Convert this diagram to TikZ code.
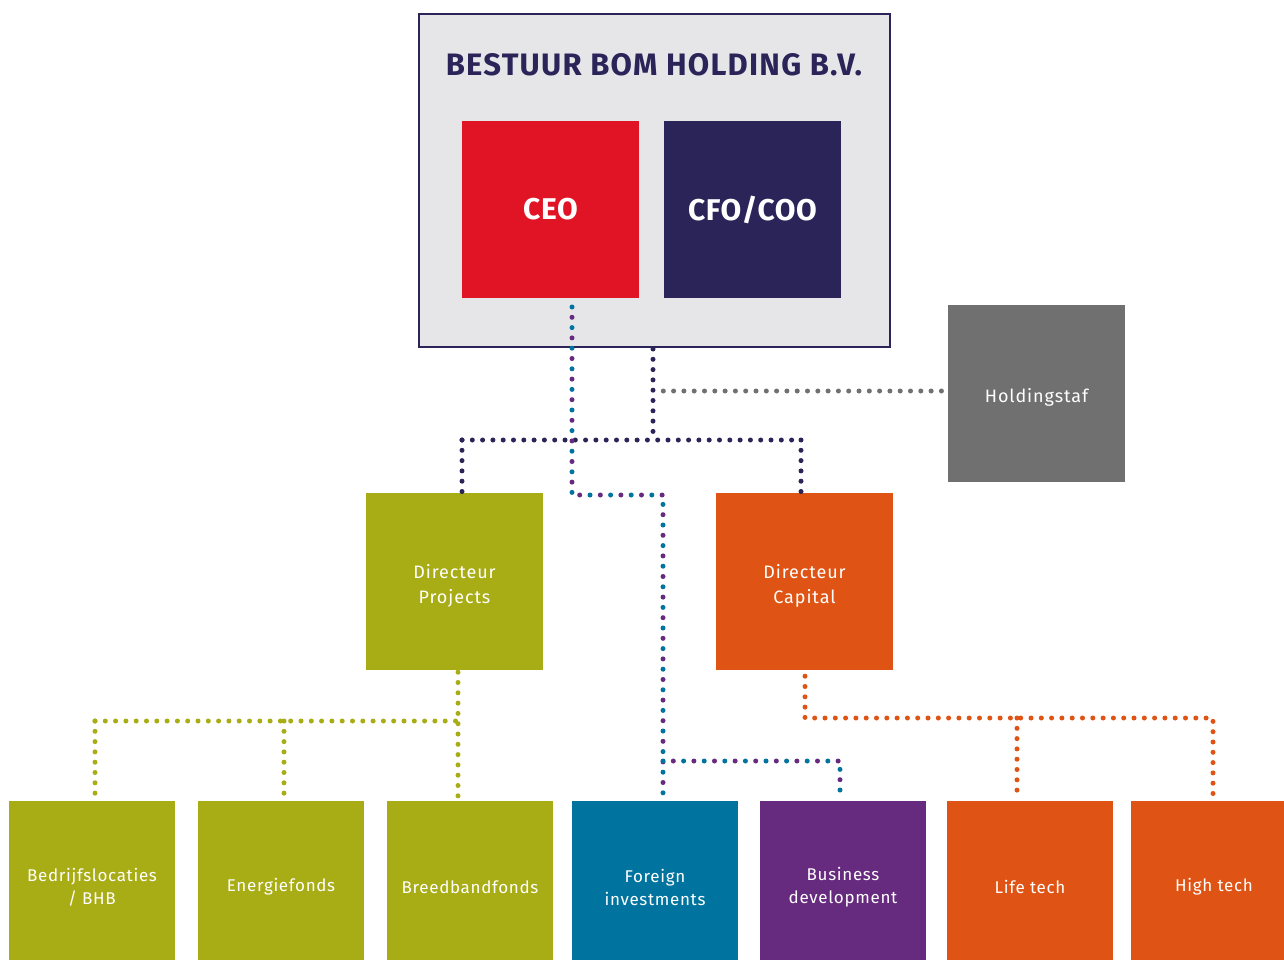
\documentclass[tikz,border=0pt]{standalone}
\usepackage{fontspec}
\setmainfont{Fira Sans}
\usetikzlibrary{calc}
\definecolor{navy}{HTML}{2A2459}
\definecolor{ceored}{HTML}{E01424}
\definecolor{olive}{HTML}{A8AC15}
\definecolor{orng}{HTML}{DF5414}
\definecolor{teal}{HTML}{00749E}
\definecolor{purp}{HTML}{662A7E}
\definecolor{staffgray}{HTML}{707070}
\definecolor{boardgray}{HTML}{E6E6E9}
\begin{document}
\begin{tikzpicture}[x=1pt,y=-1pt,
  bigbox/.style={draw=none, minimum width=177pt, minimum height=177pt, inner sep=0pt, text=white, align=center},
  boxtext/.style={text=white, align=center, font=\fontsize{18}{25}\selectfont\addfontfeature{LetterSpace=5}},
  smallbox/.style={draw=none, minimum width=166pt, minimum height=172pt, inner sep=0pt, text=white, align=center, font=\fontsize{17}{23}\selectfont\addfontfeature{LetterSpace=4}},
  dotline/.style={line width=5pt, line cap=round, dash pattern=on 0pt off 10.3pt},
  dotA/.style={line width=5pt, line cap=round, dash pattern=on 0pt off 20.6pt},
  dotB/.style={line width=5pt, line cap=round, dash pattern=on 0pt off 20.6pt, dash phase=10.3pt},
]
\clip (0,0) rectangle (1284,960);
\fill[white] (0,0) rectangle (1284,960);

% board
\node[draw=navy, line width=2pt, fill=boardgray, minimum width=471pt, minimum height=333pt, inner sep=0pt] (board) at (654.5,180.5) {};
\node[text=navy, font=\fontsize{31}{36}\selectfont\bfseries\addfontfeature{LetterSpace=4}] (title) at (654,65) {BESTUUR BOM HOLDING B.V.};
\node[bigbox, fill=ceored, font=\fontsize{30}{36}\selectfont\bfseries\addfontfeature{LetterSpace=2}] (ceo) at (550.5,209.5) {CEO};
\node[bigbox, fill=navy, font=\fontsize{30}{36}\selectfont\bfseries\addfontfeature{LetterSpace=2}] (cfo) at (752.5,209.5) {CFO/COO};

% second level
\node[bigbox, fill=staffgray, label={[boxtext, yshift=-4pt, name=stafL]center:Holdingstaf}] (staf) at (1036.5,393.5) {};
\node[bigbox, fill=olive, label={[boxtext, yshift=-4pt, name=dirPL]center:Directeur\\Projects}] (dirP) at (454.5,581.5) {};
\node[bigbox, fill=orng, label={[boxtext, yshift=-4pt, name=dirCL]center:Directeur\\Capital}] (dirC) at (804.5,581.5) {};

% bottom row
\node[smallbox, fill=olive] (bedr) at (92,887) {Bedrijfslocaties\\/ BHB};
\node[smallbox, fill=olive] (energ) at (281,887) {Energiefonds};
\node[smallbox, fill=olive] (breed) at (470,887) {Breedbandfonds};
\node[smallbox, fill=teal] (foreign) at (655,887) {Foreign\\investments};
\node[smallbox, fill=purp] (busdev) at (843,887) {Business\\development};
\node[smallbox, fill=orng] (life) at (1030,887) {Life tech};
\node[smallbox, fill=orng] (high) at (1214,887) {High tech};

% junction coordinates
\coordinate (n0) at (653,349);
\coordinate (n1) at (653,440);
\coordinate (jL) at (462,440);
\coordinate (jR) at (801,440);
\coordinate (g0) at (653,391);
\coordinate (t0) at (572,307);
\coordinate (t1) at (572,495);
\coordinate (t2) at (663,495);
\coordinate (t3) at (663,761);
\coordinate (t4) at (840,761);
\coordinate (o0) at (458,721);
\coordinate (o1) at (95,721);
\coordinate (o2) at (284,721);
\coordinate (r0) at (805,718);
\coordinate (r1) at (1213,718);
\coordinate (r2) at (1017,718);

% navy connectors
\draw[dotline, navy] (n0) -- (n1);
\draw[dotline, navy] (jL) -- (jR);
\draw[dotline, navy] (jL) -- ($(jL |- dirP.north)+(0,-1)$);
\draw[dotline, navy] (jR) -- ($(jR |- dirC.north)+(0,-1)$);
% staff
\draw[dotline, staffgray] ($(g0)+(10.3,0)$) -- ($(g0 -| staf.west)+(-3,0)$);
% teal/purple
\draw[dotA, teal] (t0) -- (t1) -- (t2) -- ($(t2 |- foreign.north)+(0,-6)$);
\draw[dotB, purp] (t0) -- (t1) -- (t2) -- ($(t2 |- foreign.north)+(0,-6)$);
\draw[dotA, teal] (t3) -- (t4) -- ($(t4 |- busdev.north)+(0,-1)$);
\draw[dotB, purp] (t3) -- (t4) -- ($(t4 |- busdev.north)+(0,-1)$);
% olive
\draw[dotline, olive] ($(o0 |- dirP.south)+(0,2)$) -- ($(o0 |- breed.north)+(0,-5)$);
\draw[dotline, olive] (o1) -- (o0);
\draw[dotline, olive] (o1) -- ($(o1 |- bedr.north)+(0,-4)$);
\draw[dotline, olive] (o2) -- ($(o2 |- energ.north)+(0,-1)$);
% orange
\draw[dotline, orng] ($(r0 |- dirC.south)+(0,6)$) -- (r0) -- (r1) -- ($(r1 |- high.north)+(0,-3)$);
\draw[dotline, orng] (r2) -- ($(r2 |- life.north)+(0,-1)$);
\end{tikzpicture}
\end{document}
